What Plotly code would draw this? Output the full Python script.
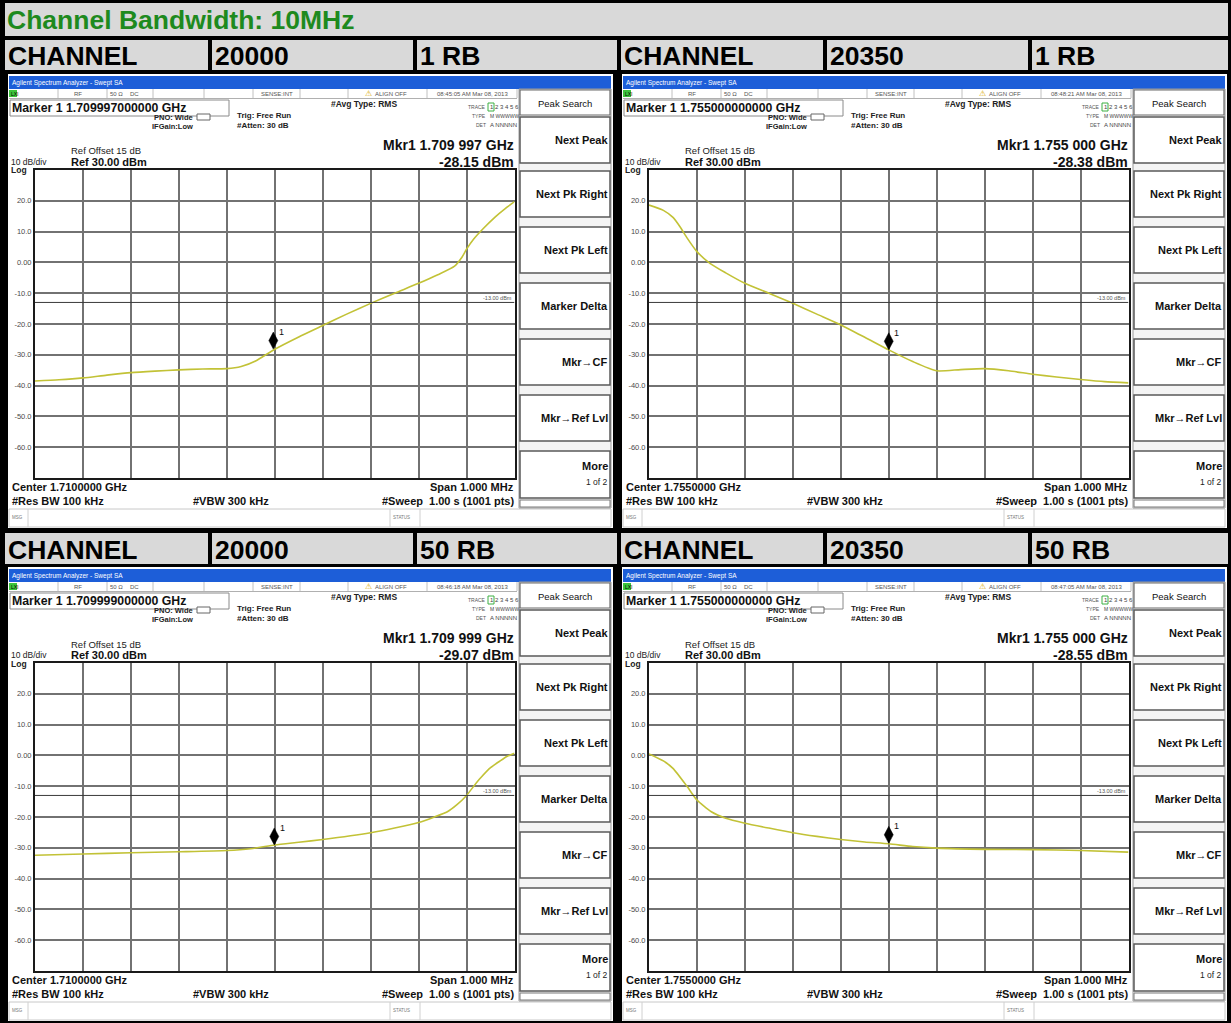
import numpy as np
import plotly.graph_objects as go

W, H = 1231, 1023
FONT = "Liberation Sans, Arial, sans-serif"

# ---- data -----------------------------------------------------------------
title_text = "Channel Bandwidth: 10MHz"
channels = ["20000", "20350"]
rb_rows = ["1 RB", "50 RB"]
center_ghz = [1.7100000, 1.7550000]
span_mhz = 1.000
timestamps = ["08:45:05 AM Mar 08, 2013", "08:48:21 AM Mar 08, 2013",
              "08:46:18 AM Mar 08, 2013", "08:47:05 AM Mar 08, 2013"]
marker_ghz = [1.709997, 1.755000, 1.709999, 1.755000]
marker_dbm = [-28.15, -28.38, -29.07, -28.55]
limit_dbm = -13.0
ref_level_dbm = 30.0
y_ticks = [20, 10, 0, -10, -20, -30, -40, -50, -60]
y_tick_text = ["20.0", "10.0", "0.00", "-10.0", "-20.0", "-30.0", "-40.0", "-50.0", "-60.0"]

# channel 20000, 1 RB
freq_20000_1rb = [1.70950, 1.70955, 1.70960, 1.70965, 1.70970, 1.70975, 1.70980, 1.70985,
                  1.70990, 1.70993, 1.70996, 1.71000, 1.71005, 1.71010, 1.71015, 1.71020,
                  1.71025, 1.71030, 1.71034, 1.710375, 1.71039, 1.71040, 1.710415, 1.710435,
                  1.71046, 1.71048, 1.71050]
dbm_20000_1rb = [-38.5, -38.1, -37.5, -36.6, -35.8, -35.3, -34.9, -34.6,
                 -34.5, -33.8, -32.0, -28.2, -24.2, -20.5, -16.8, -13.3,
                 -10.0, -6.8, -4.0, -1.2, 1.6, 4.3, 7.6, 11.0,
                 14.8, 17.4, 19.7]

# channel 20350, 1 RB
freq_20350_1rb = [1.75450, 1.75453, 1.75455, 1.754565, 1.75458, 1.75460, 1.754627, 1.75466,
                  1.75470, 1.75475, 1.75480, 1.75485, 1.75490, 1.75495, 1.75500, 1.75505,
                  1.75510, 1.75515, 1.75520, 1.75525, 1.75530, 1.75535, 1.75540, 1.75545,
                  1.75550]
dbm_20350_1rb = [18.6, 16.9, 14.6, 11.5, 7.8, 3.5, -0.3, -3.4,
                 -6.8, -10.0, -13.3, -16.8, -20.3, -24.3, -28.4, -32.2,
                 -35.2, -34.8, -34.5, -35.2, -36.3, -37.2, -38.0, -38.7,
                 -39.1]

# channel 20000, 50 RB
freq_20000_50rb = [1.70950, 1.70960, 1.70970, 1.70980, 1.70990, 1.70995, 1.71000, 1.71005,
                   1.71010, 1.71020, 1.71025, 1.71030, 1.710333, 1.71036, 1.71038, 1.71040,
                   1.710415, 1.71043, 1.71045, 1.71047, 1.710485, 1.71050]
dbm_20000_50rb = [-32.4, -32.0, -31.6, -31.3, -30.9, -30.3, -29.1, -28.2,
                  -27.3, -25.1, -23.6, -21.8, -20.0, -18.3, -16.0, -13.0,
                  -10.0, -7.2, -4.0, -1.8, -0.3, 0.7]

# channel 20350, 50 RB
freq_20350_50rb = [1.75450, 1.75453, 1.75455, 1.75458, 1.75460, 1.75463, 1.75466, 1.75470,
                   1.75475, 1.75480, 1.75485, 1.75490, 1.75495, 1.75500, 1.75505, 1.75510,
                   1.75520, 1.75530, 1.75540, 1.75550]
dbm_20350_50rb = [0.5, -1.8, -4.2, -10.2, -14.5, -18.3, -20.4, -22.0,
                  -23.6, -25.1, -26.3, -27.3, -28.1, -28.7, -29.6, -30.1,
                  -30.5, -30.6, -30.9, -31.4]

traces = [(freq_20000_1rb, dbm_20000_1rb), (freq_20350_1rb, dbm_20350_1rb),
          (freq_20000_50rb, dbm_20000_50rb), (freq_20350_50rb, dbm_20350_50rb)]

softkeys = ["Next Peak", "Next Pk Right", "Next Pk Left", "Marker Delta",
            "Mkr\u2192CF", "Mkr\u2192Ref Lvl"]

# ---- helpers for page furniture ------------------------------------------
shapes, annots = [], []


def X(px):
    return px / W


def Y(py):
    return 1 - py / H


def box(x0, y0, x1, y1, fill="rgba(0,0,0,0)", line=None, lw=0):
    shapes.append(dict(type="rect", xref="paper", yref="paper", layer="below",
                       x0=X(x0), x1=X(x1), y0=Y(y1), y1=Y(y0), fillcolor=fill,
                       line=dict(color=line if line else "rgba(0,0,0,0)", width=lw)))


def hline(x0, x1, y, color, lw=1):
    shapes.append(dict(type="line", xref="paper", yref="paper", layer="below",
                       x0=X(x0), x1=X(x1), y0=Y(y), y1=Y(y), line=dict(color=color, width=lw)))


def vline(x, y0, y1, color, lw=1):
    shapes.append(dict(type="line", xref="paper", yref="paper", layer="below",
                       x0=X(x), x1=X(x), y0=Y(y0), y1=Y(y1), line=dict(color=color, width=lw)))


def text(x, y, s, size, color="#000", bold=False, anchor="left"):
    annots.append(dict(xref="paper", yref="paper", x=X(x), y=Y(y), text=s, showarrow=False,
                       xanchor=anchor, yanchor="middle", borderpad=0,
                       font=dict(family=FONT, size=size, color=color,
                                 weight="bold" if bold else "normal")))


# ---- title bar and header rows --------------------------------------------
GRAY = "#d9d9d9"
box(5, 3, 1228, 36, GRAY)
text(6, 20, title_text, 26.5, "#1e8a1e", bold=True)

cells = [(5, 208), (212, 413), (417, 617), (621, 823), (827, 1028), (1032, 1228)]
row_y = [(40, 70), (533, 564)]
for r, (ya, yb) in enumerate(row_y):
    labels = ["CHANNEL", channels[0], rb_rows[r], "CHANNEL", channels[1], rb_rows[r]]
    for (xa, xb), lab in zip(cells, labels):
        box(xa, ya, xb, yb, GRAY)
        text(xa + 2, (ya + yb) / 2 + 1, lab, 26.5, "#000", bold=True)

# ---- analyzer screens ------------------------------------------------------
panels = [(0, 0), (614, 0), (0, 493), (614, 493)]
fig = go.Figure()

for i, (ox, oy) in enumerate(panels):
    col = i % 2
    n = "" if i == 0 else str(i + 1)
    cf = center_ghz[col]
    half = span_mhz / 2000.0
    f, v = traces[i]

    # screen background and window chrome
    box(8 + ox, 74 + oy, 613 + ox, 528 + oy, "#ffffff")
    box(9 + ox, 76 + oy, 611 + ox, 89 + oy, "#1d5ed8")
    text(11 + ox, 82.5 + oy, "Agilent Spectrum Analyzer - Swept SA", 6.5, "#ffffff")

    # status row
    hline(9 + ox, 517 + ox, 98.5 + oy, "#b0b0b0", 1)
    for sx in [58, 107, 153, 204, 253, 300, 348, 427, 517]:
        vline(sx + ox, 89 + oy, 98 + oy, "#c0c0c0", 1)
    box(9 + ox, 90 + oy, 17 + ox, 97 + oy, "#3cc43c")
    text(9.5 + ox, 93.5 + oy, "LXI", 5, "#000")
    st = [(78, "RF"), (116, "50 \u03a9"), (134, "DC"), (277, "SENSE:INT"),
          (472, timestamps[i])]
    for sx, s in st:
        text(sx + ox, 94 + oy, s, 6, "#555", anchor="center")
    text(368 + ox, 93.5 + oy, "\u26a0", 7.5, "#d8a800", anchor="center")
    text(374 + ox, 94 + oy, "ALIGN OFF", 6, "#555")

    # marker readout line
    box(10 + ox, 100 + oy, 229 + ox, 116 + oy, "#ffffff", "#8a8a8a", 1)
    text(11 + ox, 108 + oy, "Marker 1 %.12f GHz" % marker_ghz[i], 12.3, "#111", bold=True)
    text(194 + ox, 117 + oy, "PNO: Wide", 7.5, "#222", bold=True, anchor="right")
    text(194 + ox, 126 + oy, "IFGain:Low", 7.5, "#222", bold=True, anchor="right")
    box(197 + ox, 114 + oy, 210 + ox, 120 + oy, "#ffffff", "#666", 1)
    text(236 + ox, 115 + oy, "Trig: Free Run", 8, "#222", bold=True)
    text(236 + ox, 125 + oy, "#Atten: 30 dB", 8, "#222", bold=True)
    text(330 + ox, 104 + oy, "#Avg Type: RMS", 8.5, "#222", bold=True)
    text(487 + ox, 107 + oy, "TRACE", 5, "#555", anchor="right")
    text(487 + ox, 116 + oy, "TYPE", 5, "#555", anchor="right")
    text(487 + ox, 125 + oy, "DET", 5, "#555", anchor="right")
    box(488 + ox, 103 + oy, 494 + ox, 111 + oy, "#ffffff", "#3cb043", 1)
    text(489 + ox, 107 + oy, "1 2 3 4 5 6", 6, "#444")
    text(489 + ox, 116 + oy, "M WWWWW", 5, "#444")
    text(489 + ox, 125 + oy, "A NNNNN", 6, "#444")

    fs = "%.6f" % marker_ghz[i]
    text(515 + ox, 145 + oy, "Mkr1 %s %s GHz" % (fs[:5], fs[5:]), 14, "#111", bold=True, anchor="right")
    text(515 + ox, 162 + oy, "%.2f dBm" % marker_dbm[i], 14, "#111", bold=True, anchor="right")
    text(70 + ox, 151 + oy, "Ref Offset 15 dB", 9.5, "#222")
    text(70 + ox, 162 + oy, "Ref %.2f dBm" % ref_level_dbm, 11, "#111", bold=True)
    text(10 + ox, 162 + oy, "10 dB/div", 8.5, "#222")
    text(10 + ox, 170.5 + oy, "Log", 8.5, "#222", bold=True)

    # footer text
    text(11 + ox, 487 + oy, "Center %.7f GHz" % cf, 11, "#111", bold=True)
    text(515 + ox, 487 + oy, "Span %.3f MHz" % span_mhz, 11, "#111", bold=True, anchor="right")
    text(11 + ox, 500.5 + oy, "#Res BW 100 kHz", 11, "#111", bold=True)
    text(192 + ox, 500.5 + oy, "#VBW 300 kHz", 11, "#111", bold=True)
    text(515 + ox, 500.5 + oy, "#Sweep  1.00 s (1001 pts)", 11, "#111", bold=True, anchor="right")

    # message bar
    box(9 + ox, 509 + oy, 611 + ox, 527 + oy, "#ffffff", "#c8c8c8", 1)
    vline(28 + ox, 509 + oy, 527 + oy, "#d0d0d0", 1)
    vline(390 + ox, 509 + oy, 527 + oy, "#d0d0d0", 1)
    vline(420 + ox, 509 + oy, 527 + oy, "#d0d0d0", 1)
    text(11 + ox, 517 + oy, "MSG", 4.5, "#777")
    text(392 + ox, 517 + oy, "STATUS", 4.5, "#777")

    # softkey column
    box(519 + ox, 89 + oy, 611 + ox, 508 + oy, "#f4f4f4", "#9a9a9a", 1)
    box(520 + ox, 90 + oy, 610 + ox, 115 + oy, "#ffffff", "#6a6a6a", 1.2)
    text(565 + ox, 103 + oy, "Peak Search", 9.5, "#111", anchor="center")
    for k, lab in enumerate(softkeys):
        yt = 117 + 56 * k - (0 if k == 0 else 2)
        yb = yt + 46
        box(520 + ox, yt + oy, 610 + ox, yb + oy, "#ffffff", "#5a5a5a", 1.5)
        text(609 + ox, (yt + yb) / 2 + oy, lab, 11, "#111", bold=True, anchor="right")
    box(520 + ox, 451 + oy, 610 + ox, 498 + oy, "#ffffff", "#5a5a5a", 1.5)
    text(609 + ox, 466 + oy, "More", 11, "#111", bold=True, anchor="right")
    text(609 + ox, 482 + oy, "1 of 2", 8.5, "#222", anchor="right")
    box(520 + ox, 500 + oy, 610 + ox, 507 + oy, "#ffffff", "#7a7a7a", 1)

    # measurement trace
    fig.add_trace(go.Scatter(x=f, y=v, mode="lines", xaxis="x" + n, yaxis="y" + n,
                             line=dict(color="#c2c236", width=1.6, shape="spline", smoothing=0.6),
                             hoverinfo="skip", showlegend=False))

    grid_x = list(np.linspace(cf - half, cf + half, 11))
    fig.update_layout(**{
        "xaxis" + n: dict(domain=[X(35 + ox), X(514.5 + ox)], range=[cf - half, cf + half],
                          tickvals=grid_x, showticklabels=False, ticks="",
                          showgrid=True, gridcolor="#727272", gridwidth=1.6, zeroline=False,
                          showline=True, linecolor="#1a1a1a", linewidth=2, mirror=True,
                          anchor="y" + n, fixedrange=True),
        "yaxis" + n: dict(domain=[Y(478 + oy), Y(170 + oy)], range=[-70, 30],
                          tickvals=y_ticks, ticktext=y_tick_text, ticks="",
                          tickfont=dict(family=FONT, size=7.5, color="#4a4a4a"),
                          showgrid=True, gridcolor="#727272", gridwidth=1.6, zeroline=False,
                          showline=True, linecolor="#1a1a1a", linewidth=2, mirror=True,
                          anchor="x" + n, fixedrange=True),
    })

    xr = "x" + n
    yr = "y" + n
    # -13 dBm display line
    shapes.append(dict(type="line", xref=xr, yref=yr, x0=cf - half, x1=cf + half,
                       y0=limit_dbm, y1=limit_dbm, layer="above",
                       line=dict(color="#3a3a3a", width=1)))
    annots.append(dict(xref=xr, yref=yr, x=cf + half, xshift=-2, y=limit_dbm, yshift=4,
                       text="%.2f dBm" % limit_dbm, showarrow=False, xanchor="right",
                       yanchor="middle", borderpad=0,
                       font=dict(family=FONT, size=5.5, color="#555")))
    # marker 1 diamond (tip sits on the marker level)
    shapes.append(dict(type="path", xref=xr, yref=yr, xsizemode="pixel", ysizemode="pixel",
                       xanchor=marker_ghz[i], yanchor=marker_dbm[i], layer="above",
                       path="M 0 0 L 4.5 8.5 L 0 17 L -4.5 8.5 Z",
                       fillcolor="#000000", line=dict(color="#000000", width=0.5)))
    annots.append(dict(xref=xr, yref=yr, x=marker_ghz[i], y=marker_dbm[i], xshift=8, yshift=17,
                       text="1", showarrow=False, xanchor="center", yanchor="middle",
                       font=dict(family=FONT, size=9, color="#111")))

fig.update_layout(width=W, height=H, margin=dict(l=0, r=0, t=0, b=0),
                  paper_bgcolor="#000000", plot_bgcolor="rgba(0,0,0,0)",
                  shapes=shapes, annotations=annots, showlegend=False)
fig.write_html("out.html", config={"displayModeBar": False})
